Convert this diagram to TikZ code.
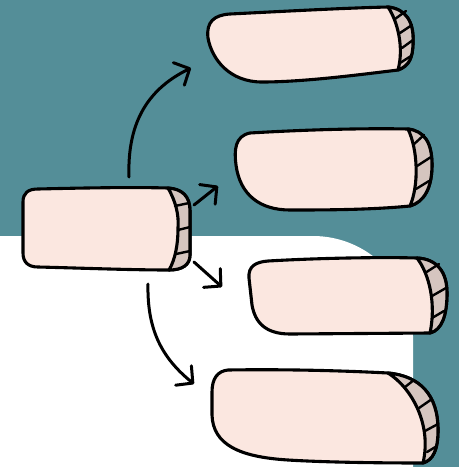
\documentclass[tikz,border=0pt]{standalone}
\usetikzlibrary{arrows.meta}

\definecolor{bgteal}{HTML}{548E98}
\definecolor{notepink}{HTML}{FBE7E0}
\definecolor{capgray}{HTML}{D5C5BF}

\tikzset{
  body/.style={fill=notepink, draw=black, line width=3.1pt, line join=round},
  capend/.style={fill=capgray, draw=black, line width=3.1pt, line join=round},
  hatch/.style={draw=black, line width=2.4pt, line cap=round},
  link/.style={draw=black, line width=3pt, line cap=round,
    -{Straight Barb[length=12pt, width=25pt, round]}},
}

\begin{document}
\begin{tikzpicture}[x=1pt, y=-1pt]
\useasboundingbox (0,0) rectangle (459,467);

% background
\fill[bgteal] (0,0) rectangle (459,467);
\fill[white] (0,236) -- (313,236) .. controls (368,236) and (413,281) .. (413,336)
  -- (413,467) -- (0,467) -- cycle;

% hub
\filldraw[body] (38,189) .. controls (80,188) and (130,187) .. (168,188)
  .. controls (182,189) and (190,196) .. (190,211) -- (190,255)
  .. controls (190,265) and (182,270) .. (169,270)
  .. controls (130,270) and (80,268) .. (38,267)
  .. controls (28,267) and (23,262) .. (23,253) -- (23,202)
  .. controls (23,193) and (28,189) .. (38,189) -- cycle;
\filldraw[capend] (168,188) .. controls (176,202) and (179,215) .. (178,228)
  .. controls (178,245) and (175,260) .. (169,270)
  .. controls (182,270) and (190,265) .. (190,255) -- (190,211)
  .. controls (190,196) and (182,189) .. (168,188) -- cycle;
\draw[hatch] (175,206) -- (189,203) (178,230) -- (190,227) (176,254) -- (190,251);

% box A
\filldraw[body] (230,14) .. controls (290,11) and (345,8) .. (388,7)
  .. controls (406,9) and (414,22) .. (413,42)
  .. controls (413,58) and (409,66) .. (398,70)
  .. controls (350,76) and (300,82) .. (262,82)
  .. controls (230,82) and (212,60) .. (208,38)
  .. controls (206,22) and (214,15) .. (230,14) -- cycle;
\filldraw[capend] (388,7) .. controls (398,22) and (404,48) .. (398,70)
  .. controls (409,66) and (413,58) .. (413,42)
  .. controls (414,22) and (406,9) .. (388,7) -- cycle;
\draw[hatch] (395,19) -- (406,11) (400,33) -- (412,25) (402,48) -- (413,40) (400,63) -- (411,56);

% box B
\filldraw[body] (250,133) .. controls (300,130) and (360,128) .. (408,129)
  .. controls (424,131) and (432,142) .. (432,165)
  .. controls (432,188) and (424,202) .. (410,206)
  .. controls (370,210) and (320,210) .. (290,210)
  .. controls (260,210) and (240,195) .. (236,165)
  .. controls (234,150) and (235,136) .. (250,133) -- cycle;
\filldraw[capend] (408,129) .. controls (418,150) and (419,185) .. (410,206)
  .. controls (424,202) and (432,188) .. (432,165)
  .. controls (432,142) and (424,131) .. (408,129) -- cycle;
\draw[hatch] (413,145) -- (424,135) (417,166) -- (431,157) (416,189) -- (429,181);

% box C
\filldraw[body] (268,261) .. controls (320,258) and (380,257) .. (417,258)
  .. controls (437,259) and (447,272) .. (447,293)
  .. controls (447,315) and (442,330) .. (430,333) -- (290,334)
  .. controls (265,334) and (255,322) .. (252,305) -- (249,278)
  .. controls (248,266) and (256,262) .. (268,261) -- cycle;
\filldraw[capend] (417,258) .. controls (430,275) and (436,305) .. (430,333)
  .. controls (442,330) and (447,315) .. (447,293)
  .. controls (447,272) and (437,259) .. (417,258) -- cycle;
\draw[hatch] (425,273) -- (439,264) (432,296) -- (446,288) (432,318) -- (444,311);

% box D
\filldraw[body] (228,370) .. controls (290,369) and (350,371) .. (388,373)
  .. controls (420,376) and (438,395) .. (438,430)
  .. controls (438,450) and (433,460) .. (423,463)
  .. controls (370,463) and (320,462) .. (288,460)
  .. controls (240,457) and (213,445) .. (212,415) -- (212,392)
  .. controls (212,378) and (218,371) .. (228,370) -- cycle;
\filldraw[capend] (388,373) .. controls (412,388) and (432,425) .. (423,463)
  .. controls (433,460) and (438,450) .. (438,430)
  .. controls (438,395) and (420,376) .. (388,373) -- cycle;
\draw[hatch] (405,387) -- (414,380) (419,408) -- (432,399) (425,431) -- (438,424) (427,452) -- (437,446);

% connectors
\coordinate (hubN) at (129,177);
\coordinate (hubNE) at (194,205);
\coordinate (hubSE) at (194,262);
\coordinate (hubS) at (148,284);
\coordinate (tipA) at (191,68);
\coordinate (tipB) at (218,186);
\coordinate (tipC) at (222,287);
\coordinate (tipD) at (194,384);

\draw[link] (hubN) .. controls (127,120) and (150,88) .. (tipA);
\draw[link] (hubNE) -- (tipB);
\draw[link] (hubSE) -- (tipC);
\draw[link] (hubS) .. controls (147,330) and (162,358) .. (tipD);
\end{tikzpicture}
\end{document}
